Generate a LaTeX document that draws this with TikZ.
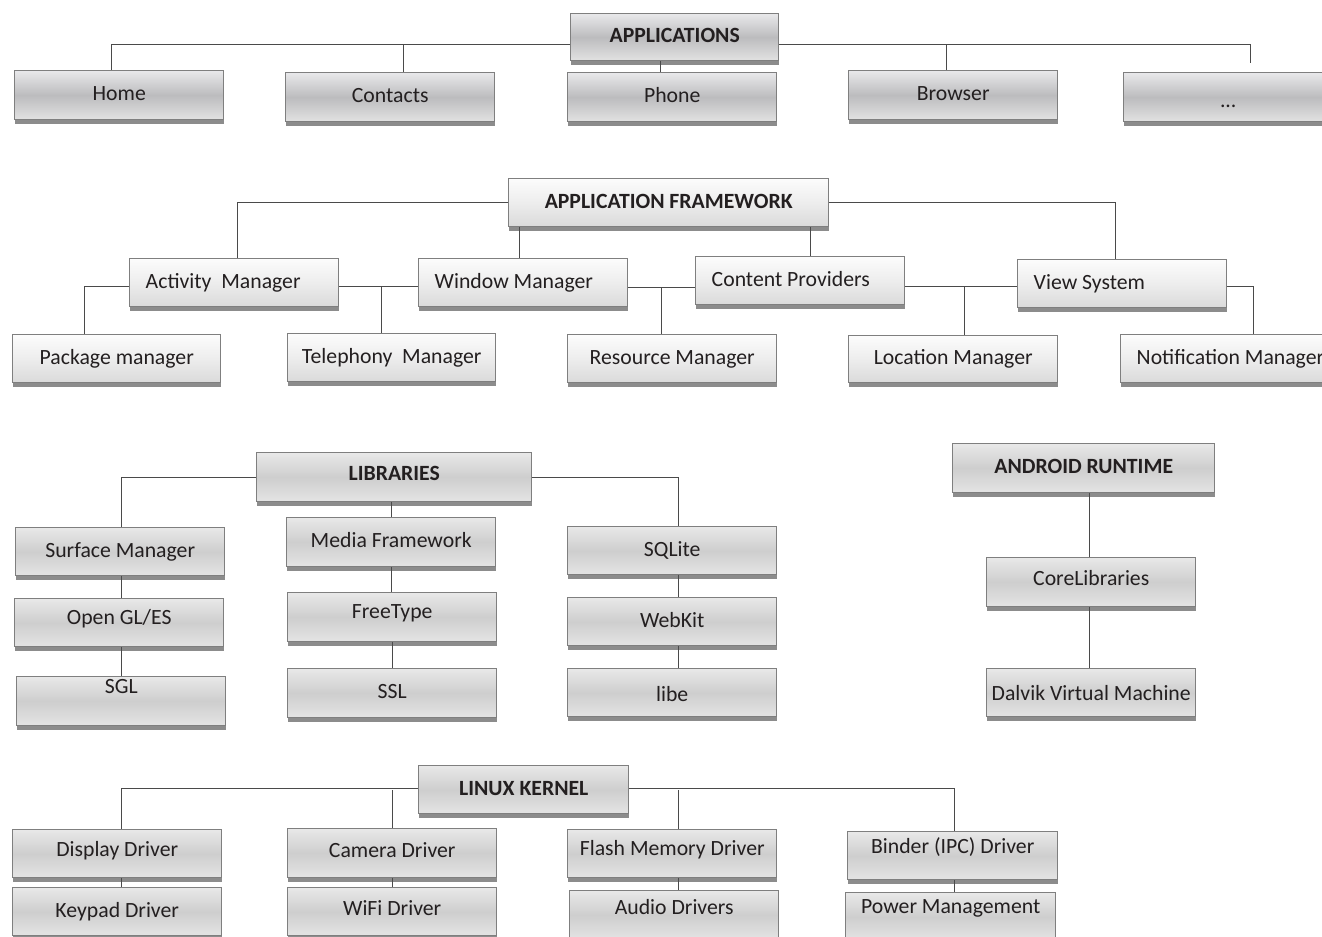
\documentclass[tikz,border=0pt]{standalone}
\usepackage{fontspec}
\setmainfont{Carlito}
\usetikzlibrary{shadows}
\definecolor{bord}{HTML}{7F7F7F}
\definecolor{lnc}{HTML}{4A4A4A}
\definecolor{txt}{HTML}{231F20}
\definecolor{aTop}{HTML}{E8E8EA}
\definecolor{aMid}{HTML}{BCBCBE}
\definecolor{aBot}{HTML}{E2E2E2}
\definecolor{fTop}{HTML}{FCFCFC}
\definecolor{fMid}{HTML}{EDEDED}
\definecolor{fBot}{HTML}{DADADA}
\definecolor{lTop}{HTML}{E8E8E8}
\definecolor{lMid}{HTML}{CECECE}
\definecolor{lBot}{HTML}{E4E4E4}
\newlength\pxu \setlength\pxu{0.75pt}
\newcommand\bx[8]{\node[#6, anchor=north west, minimum width={((#4)-(#2))*0.75pt}, minimum height={((#5)-(#3))*0.75pt}] (#1) at (#2,#3) {\raisebox{#7\pxu}{#8}};}
\newcommand\lbx[8]{\node[#6, anchor=north west, inner xsep=12pt, minimum width={((#4)-(#2))*0.75pt}, minimum height={((#5)-(#3))*0.75pt}] (#1) at (#2,#3) {\raisebox{#7\pxu}{\makebox[132.75pt][l]{#8}}};}
\tikzset{
  basebox/.style={draw=bord, line width=1.1pt, text=txt, inner ysep=0pt,
    text height=0.92em, text depth=0.1em,
    drop shadow={shadow xshift=0pt, shadow yshift=-3pt, fill=black!45, opacity=1}},
  appbox/.style={basebox, top color=aTop, bottom color=aBot, middle color=aMid},
  fwbox/.style={basebox, top color=fTop, bottom color=fBot, middle color=fMid},
  libbox/.style={basebox, top color=lTop, bottom color=lBot, middle color=lMid},
  hdr/.style={font=\fontsize{16.3}{19}\selectfont\bfseries},
  conn/.style={draw=lnc, line width=1pt}
}
\begin{document}
\begin{tikzpicture}[x=0.75pt, y=-0.75pt, font=\fontsize{16.3}{19}\selectfont]
\useasboundingbox[fill=white] (0,0) rectangle (1322,937);

% ---------- Applications ----------
\bx{app}{570}{13}{778}{60}{appbox,hdr}{0}{APPLICATIONS}
\bx{home}{14}{70}{223}{119}{appbox}{0}{Home}
\bx{contacts}{285}{72}{494}{121}{appbox}{0}{Contacts}
\bx{phone}{567}{72}{776}{121}{appbox}{0}{Phone}
\bx{browser}{848}{70}{1057}{119}{appbox}{0}{Browser}
\bx{more}{1123}{72}{1332}{121}{appbox}{-5}{...}

\draw[conn] ([yshift=-5.6pt]app.west) -| ([xshift=-7.5\pxu]home.north);
\draw[conn] ([yshift=-5.6pt]app.west) -| ([xshift=13.5\pxu]contacts.north);
\draw[conn] ([yshift=-5.6pt]app.east) -| ([xshift=-6.5\pxu]browser.north);
\draw[conn] ([yshift=-5.6pt]app.east) -| ([xshift=22.5\pxu,yshift=9\pxu]more.north);
\draw[conn] ([xshift=-11.5\pxu]phone.north) -- ([xshift=-11.5\pxu]phone.north |- app.south);

% ---------- Application framework ----------
\bx{fw}{508}{178}{828}{226}{fwbox,hdr}{0}{APPLICATION FRAMEWORK}
\lbx{am}{129}{258}{338}{306}{fwbox}{0}{Activity\ \ Manager}
\lbx{wm}{418}{258}{627}{306}{fwbox}{0}{Window Manager}
\lbx{cp}{695}{256}{904}{304}{fwbox}{0}{Content Providers}
\lbx{vs}{1017}{259}{1226}{307}{fwbox}{0}{View System}
\bx{pkg}{12}{334}{220}{382}{fwbox}{0}{Package manager}
\bx{tel}{287}{333}{495}{381}{fwbox}{0}{Telephony\ \ Manager}
\bx{res}{567}{334}{776}{382}{fwbox}{0}{Resource Manager}
\bx{loc}{848}{335}{1057}{382}{fwbox}{0}{Location Manager}
\lbx{notif}{1120}{334}{1329}{382}{fwbox}{0}{Notification Manager}

\draw[conn] (fw.west) -| ([xshift=3.5\pxu]am.north);
\draw[conn] (fw.east) -| ([xshift=-6.5\pxu]vs.north);
\draw[conn] ([xshift=-3.5\pxu]wm.north) -- ([xshift=-3.5\pxu]wm.north |- fw.south);
\draw[conn] ([xshift=10.5\pxu]cp.north) -- ([xshift=10.5\pxu]cp.north |- fw.south);
\draw[conn] ([yshift=-3pt]am.west) -| ([xshift=-32\pxu]pkg.north);
\draw[conn] ([yshift=-3pt]am.east) -- ([yshift=-3pt]wm.west);
\draw[conn] ([xshift=-10\pxu]tel.north) |- ([yshift=-3pt]am.east);
\draw[conn] ([yshift=-5\pxu]wm.east) -- ([yshift=-7\pxu]cp.west);
\draw[conn] ([xshift=-10.5\pxu]res.north) |- ([yshift=-5\pxu]wm.east);
\draw[conn] ([yshift=-6\pxu]cp.east) -- ([yshift=-3\pxu]vs.west);
\draw[conn] ([xshift=11.5\pxu]loc.north) |- ([yshift=-6\pxu]cp.east);
\draw[conn] ([yshift=-3\pxu]vs.east) -| ([xshift=28.5\pxu]notif.north);

% ---------- Libraries ----------
\bx{lib}{256}{452}{531}{501}{libbox,hdr}{2}{LIBRARIES}
\bx{media}{286}{517}{495}{566}{libbox}{0}{Media Framework}
\bx{ft}{287}{592}{496}{641}{libbox}{4}{FreeType}
\bx{ssl}{287}{668}{496}{717}{libbox}{0}{SSL}
\bx{surf}{15}{527}{224}{575}{libbox}{0}{Surface Manager}
\bx{ogl}{14}{598}{223}{646}{libbox}{4}{Open GL/ES}
\bx{sgl}{16}{676}{225}{725}{libbox}{13}{SGL}
\bx{sql}{567}{526}{776}{574}{libbox}{0}{SQLite}
\bx{webkit}{567}{597}{776}{645}{libbox}{0}{WebKit}
\bx{libe}{567}{668}{776}{716}{libbox}{-3}{libe}

\draw[conn] (lib.west) -| ([xshift=1.5\pxu]surf.north);
\draw[conn] (lib.east) -| ([xshift=6.5\pxu]sql.north);
\draw[conn] (media.north) -- (media.north |- lib.south);
\draw[conn] (media.south) -- (media.south |- ft.north);
\draw[conn] (ft.south) -- (ft.south |- ssl.north);
\draw[conn] ([xshift=1.5\pxu]surf.south) -- ([xshift=1.5\pxu]surf.south |- ogl.north);
\draw[conn] ([xshift=2.5\pxu]ogl.south) -- ([xshift=2.5\pxu]ogl.south |- sgl.north);
\draw[conn] ([xshift=6.5\pxu]sql.south) -- ([xshift=6.5\pxu]sql.south |- webkit.north);
\draw[conn] ([xshift=6.5\pxu]webkit.south) -- ([xshift=6.5\pxu]webkit.south |- libe.north);

% ---------- Android runtime ----------
\bx{rt}{952}{443}{1214}{492}{libbox,hdr}{0}{ANDROID RUNTIME}
\bx{core}{986}{557}{1195}{606}{libbox}{2}{CoreLibraries}
\bx{dalvik}{986}{668}{1195}{716}{libbox}{-2}{Dalvik Virtual Machine}
\draw[conn] ([xshift=-1.5\pxu]core.north) -- ([xshift=-1.5\pxu]core.north |- rt.south);
\draw[conn] ([xshift=-1.5\pxu]core.south) -- ([xshift=-1.5\pxu]core.south |- dalvik.north);

% ---------- Linux kernel ----------
\bx{lk}{418}{765}{628}{813}{libbox,hdr}{0}{LINUX KERNEL}
\bx{disp}{12}{829}{221}{877}{libbox}{3}{Display Driver}
\bx{key}{12}{887}{221}{935}{libbox}{0}{Keypad Driver}
\bx{cam}{287}{828}{496}{877}{libbox}{1}{Camera Driver}
\bx{wifi}{287}{887}{496}{935}{libbox}{2}{WiFi Driver}
\bx{flash}{567}{829}{776}{877}{libbox}{4}{Flash Memory Driver}
\bx{audio}{569}{890}{778}{939}{libbox}{6}{Audio Drivers}
\bx{binder}{847}{831}{1057}{879}{libbox}{8}{Binder (IPC) Driver}
\bx{power}{845}{892}{1055}{940}{libbox}{9}{Power Management}

\draw[conn] ([yshift=0.75pt]lk.west) -| ([xshift=4.5\pxu]disp.north);
\draw[conn] ([yshift=0.75pt]lk.east) -| ([xshift=2\pxu]binder.north);
\draw[conn] (cam.north) -- (cam.north |- lk.west);
\draw[conn] ([xshift=6.5\pxu]flash.north) -- ([xshift=6.5\pxu]flash.north |- lk.east);
\draw[conn] ([xshift=4.5\pxu]disp.south) -- ([xshift=4.5\pxu]disp.south |- key.north);
\draw[conn] (cam.south) -- (cam.south |- wifi.north);
\draw[conn] ([xshift=6.5\pxu]flash.south) -- ([xshift=6.5\pxu]flash.south |- audio.north);
\draw[conn] ([xshift=2\pxu]binder.south) -- ([xshift=2\pxu]binder.south |- power.north);
\end{tikzpicture}
\end{document}
